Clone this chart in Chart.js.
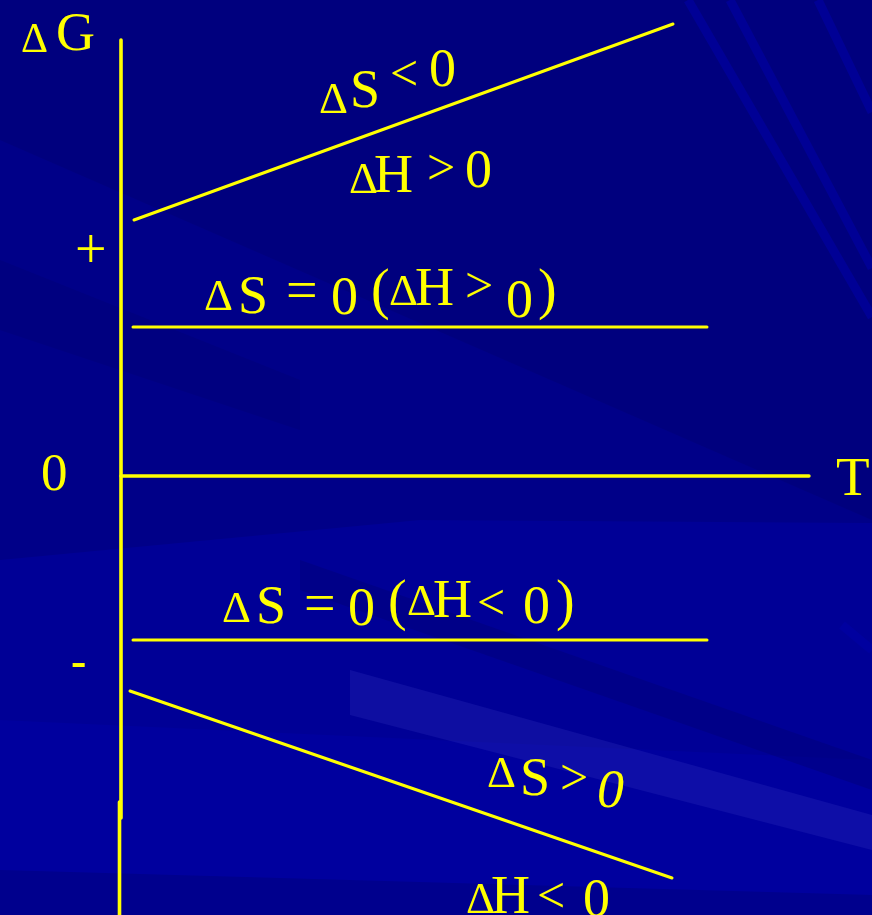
<!DOCTYPE html>
<html>
<head>
<meta charset="utf-8">
<script src="https://cdn.jsdelivr.net/npm/chart.js@4"></script>
<style>
  html, body { margin: 0; padding: 0; background: #000080; }
  #caja { width: 872px; height: 915px; position: relative; }
</style>
</head>
<body>
<div id="caja"><canvas id="grafico"></canvas></div>
<script>
// Rectas del diagrama ΔG = ΔH - TΔS (unidades arbitrarias)
const casos = ["ΔS < 0, ΔH > 0", "ΔS = 0 (ΔH > 0)", "ΔS = 0 (ΔH < 0)", "ΔS > 0, ΔH < 0"];
const tInicio = [0.13, 0.12, 0.12, 0.09];
const tFin = [5.52, 5.86, 5.86, 5.51];
const gInicio = [2.56, 1.49, -1.64, -2.15];
const gFin = [4.52, 1.49, -1.64, -4.02];

// Ejes
const ejeT = [0, 6.88];
const ejeG = [4.36, -3.42];
const ejeGbajo = [-3.26, -4.5];

const amarillo = "#FFFF00";

// Textos: [texto, x izq, línea base, tamaño, estilo]
const textos = [
  ["Δ", 21, 52, 42], ["G", 56, 50, 54],
  ["+", 75, 268, 56], ["0", 41, 490, 53], ["-", 71, 676, 46, "bold"], ["T", 836, 495, 55],
  ["Δ", 319, 113, 45], ["S", 350, 107, 54], ["<", 390, 90, 50], ["0", 429, 86, 54],
  ["Δ", 349, 193, 45], ["H", 374, 192, 54], [">", 427, 184, 50], ["0", 465, 187, 54],
  ["Δ", 204, 310, 45], ["S", 238, 313, 54], ["=", 286, 309, 56], ["0", 331, 314, 54],
  ["(", 371, 308, 56], ["Δ", 389, 305, 45], ["H", 415, 305, 54], [">", 465, 302, 50],
  ["0", 506, 317, 54], [")", 538, 308, 56],
  ["Δ", 222, 622, 45], ["S", 256, 623, 54], ["=", 304, 622, 56], ["0", 348, 625, 54],
  ["(", 388, 619, 56], ["Δ", 407, 615, 45], ["H", 433, 617, 54], ["<", 477, 619, 50],
  ["0", 523, 623, 54], [")", 556, 619, 56],
  ["Δ", 487, 787, 45], ["S", 520, 795, 54], [">", 560, 794, 50], ["0", 597, 807, 54, "italic"],
  ["Δ", 466, 913, 45], ["H", 491, 913, 54], ["<", 537, 912, 50], ["0", 583, 916, 54]
];

const fondo = {
  id: "fondo",
  beforeDraw(chart) {
    const c = chart.ctx;
    const w = chart.width, h = chart.height;
    c.save();
    c.fillStyle = "#00007E";
    c.fillRect(0, 0, w, h);
    // franjas suaves a la izquierda
    c.fillStyle = "#000088";
    c.beginPath();
    c.moveTo(0, 140); c.lineTo(872, 520); c.lineTo(872, 915); c.lineTo(0, 915);
    c.closePath(); c.fill();
    c.fillStyle = "rgba(0,0,110,0.3)";
    c.beginPath();
    c.moveTo(0, 260); c.lineTo(300, 380); c.lineTo(300, 430); c.lineTo(0, 330);
    c.closePath(); c.fill();
    // zona inferior más clara
    c.fillStyle = "#000096";
    c.beginPath();
    c.moveTo(0, 560); c.lineTo(420, 520); c.lineTo(872, 523); c.lineTo(872, 915); c.lineTo(0, 915);
    c.closePath(); c.fill();
    c.fillStyle = "#00009E";
    c.beginPath();
    c.moveTo(0, 720); c.lineTo(872, 760); c.lineTo(872, 915); c.lineTo(0, 915);
    c.closePath(); c.fill();
    // franjas oscuras diagonales
    c.fillStyle = "rgba(0,0,120,0.45)";
    c.beginPath();
    c.moveTo(300, 560); c.lineTo(872, 760); c.lineTo(872, 790); c.lineTo(300, 590);
    c.closePath(); c.fill();
    c.beginPath();
    c.moveTo(0, 870); c.lineTo(872, 895); c.lineTo(872, 915); c.lineTo(0, 915);
    c.closePath(); c.fill();
    // franja clara inferior
    c.fillStyle = "rgba(50,50,190,0.28)";
    c.beginPath();
    c.moveTo(350, 670); c.lineTo(872, 815); c.lineTo(872, 850); c.lineTo(350, 715);
    c.closePath(); c.fill();
    // rayas diagonales arriba a la derecha
    c.strokeStyle = "rgba(0,0,165,0.6)";
    c.lineWidth = 9;
    [[688, 0, 872, 317], [730, 0, 872, 268], [818, 0, 872, 112], [842, 625, 872, 650]].forEach(r => {
      c.beginPath(); c.moveTo(r[0], r[1]); c.lineTo(r[2], r[3]); c.stroke();
    });
    c.restore();
  }
};

const rotulos = {
  id: "rotulos",
  afterDatasetsDraw(chart) {
    const c = chart.ctx;
    c.save();
    c.fillStyle = amarillo;
    c.textAlign = "left";
    c.textBaseline = "alphabetic";
    textos.forEach(([t, x, y, s, estilo]) => {
      c.font = (estilo ? estilo + " " : "") + s + "px 'Liberation Serif', 'Times New Roman', serif";
      c.fillText(t, x, y);
    });
    c.restore();
  }
};

const linea = (datos, ancho) => ({
  data: datos,
  showLine: true,
  borderColor: amarillo,
  borderWidth: ancho,
  borderCapStyle: "round",
  pointRadius: 0,
  fill: false
});

const conjuntos = casos.map((nombre, i) => Object.assign(linea([
  { x: tInicio[i], y: gInicio[i] },
  { x: tFin[i], y: gFin[i] }
], 3), { label: nombre }));

conjuntos.push(Object.assign(linea([{ x: ejeT[0], y: 0 }, { x: ejeT[1], y: 0 }], 3.4), { label: "T" }));
conjuntos.push(Object.assign(linea([{ x: 0, y: ejeG[0] }, { x: 0, y: ejeG[1] }], 3.6), { label: "ΔG" }));
conjuntos.push(Object.assign(linea([{ x: -0.015, y: ejeGbajo[0] }, { x: -0.015, y: ejeGbajo[1] }], 3.6), { label: "ΔG'" }));

new Chart(document.getElementById("grafico"), {
  type: "scatter",
  data: { datasets: conjuntos },
  options: {
    responsive: true,
    maintainAspectRatio: false,
    animation: false,
    devicePixelRatio: 1,
    layout: { padding: 0 },
    scales: {
      x: { type: "linear", display: false, min: -1.21, max: 7.51 },
      y: { type: "linear", display: false, min: -4.39, max: 4.76 }
    },
    plugins: { legend: { display: false }, tooltip: { enabled: false } }
  },
  plugins: [fondo, rotulos]
});
</script>
</body>
</html>
